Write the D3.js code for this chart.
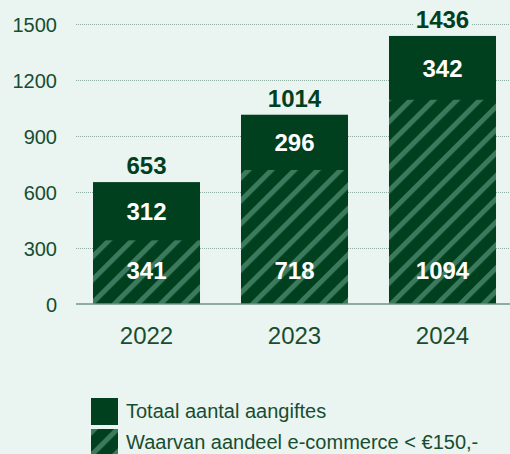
<!DOCTYPE html>
<html>
<head>
<meta charset="utf-8">
<script src="https://cdn.jsdelivr.net/npm/d3@7"></script>
<style>
  body { margin: 0; background: #eaf4f1; }
  svg { display: block; font-family: 'Liberation Sans', Arial, sans-serif; }
</style>
</head>
<body>
<svg></svg>
<script>
const years = ['2022', '2023', '2024'];
const totals = [653, 1014, 1436];
const ecommerce = [341, 718, 1094];
const remainder = [312, 296, 342];
const yTicks = [0, 300, 600, 900, 1200, 1500];
const legendLabels = ['Totaal aantal aangiftes', 'Waarvan aandeel e-commerce < €150,-'];

const width = 510, height = 454;
const dark = '#00401e';
const stripe = '#3b7a5c';
const bg = '#eaf4f1';

const svg = d3.select('svg')
  .attr('width', width)
  .attr('height', height)
  .style('background-color', bg);

const defs = svg.append('defs');
const pat = defs.append('pattern')
  .attr('id', 'hatch')
  .attr('patternUnits', 'userSpaceOnUse')
  .attr('width', 16.3)
  .attr('height', 16.3)
  .attr('patternTransform', 'rotate(45)');
pat.append('rect').attr('width', 16.3).attr('height', 16.3).attr('fill', dark);
pat.append('rect').attr('width', 5).attr('height', 16.3).attr('fill', stripe);

const xScale = d3.scaleBand()
  .domain(years)
  .range([72.5, 516.5])
  .paddingInner(0.277)
  .paddingOuter(0.1385);

const yScale = d3.scaleLinear()
  .domain([0, 1500])
  .range([304, 24]);

// grid + tick labels
const yAxis = svg.append('g')
  .call(d3.axisLeft(yScale).tickValues(yTicks).tickFormat(d3.format('d')).tickSize(0).tickPadding(0));
yAxis.select('.domain').remove();
yAxis.selectAll('.tick text')
  .attr('x', 57)
  .attr('dy', '0.35em')
  .attr('text-anchor', 'end')
  .style('font-family', "'Liberation Sans', Arial, sans-serif")
  .style('font-size', '20px')
  .attr('fill', '#174d30');
yAxis.selectAll('.tick')
  .filter(d => d !== 0)
  .append('line')
  .attr('x1', 76).attr('x2', width)
  .attr('stroke', '#8fae9f')
  .attr('stroke-width', 1.2)
  .attr('stroke-dasharray', '1,1');

// bars
const bars = svg.append('g').selectAll('g')
  .data(years)
  .join('g');

bars.append('rect')
  .attr('x', d => xScale(d))
  .attr('width', xScale.bandwidth())
  .attr('y', (d, i) => yScale(totals[i]))
  .attr('height', (d, i) => yScale(0) - yScale(totals[i]))
  .attr('fill', dark);

bars.append('rect')
  .attr('x', d => xScale(d))
  .attr('width', xScale.bandwidth())
  .attr('y', (d, i) => yScale(ecommerce[i]))
  .attr('height', (d, i) => yScale(0) - yScale(ecommerce[i]))
  .attr('fill', 'url(#hatch)');

// baseline
svg.append('line')
  .attr('x1', 76).attr('x2', width)
  .attr('y1', yScale(0)).attr('y2', yScale(0))
  .attr('stroke', '#6f9483')
  .attr('stroke-width', 1.6);

// labels
const cx = d => xScale(d) + xScale.bandwidth() / 2;

const totalLabels = bars.append('g');
totalLabels.each(function(d, i) {
  const g = d3.select(this);
  const t = g.append('text')
    .attr('x', cx(d))
    .attr('y', yScale(totals[i]) - 8)
    .attr('text-anchor', 'middle')
    .attr('fill', dark)
    .style('font-size', '24px')
    .style('font-weight', 'bold')
    .text(totals[i]);
  const bb = t.node().getBBox();
  g.insert('rect', 'text')
    .attr('x', bb.x - 2).attr('y', bb.y + 3)
    .attr('width', bb.width + 4).attr('height', bb.height - 6)
    .attr('fill', bg);
});

bars.append('text')
  .attr('x', cx)
  .attr('y', (d, i) => (yScale(totals[i]) + yScale(ecommerce[i])) / 2)
  .attr('dy', '0.36em')
  .attr('text-anchor', 'middle')
  .attr('fill', '#fff')
  .style('font-size', '24px')
  .style('font-weight', 'bold')
  .text((d, i) => remainder[i]);

bars.append('text')
  .attr('x', cx)
  .attr('y', yScale(0) - 25)
  .attr('text-anchor', 'middle')
  .attr('fill', '#fff')
  .style('font-size', '24px')
  .style('font-weight', 'bold')
  .text((d, i) => ecommerce[i]);

// x labels
svg.append('g').selectAll('text')
  .data(years)
  .join('text')
  .attr('x', cx)
  .attr('y', yScale(0) + 40)
  .attr('text-anchor', 'middle')
  .attr('fill', '#174d30')
  .style('font-size', '24px')
  .text(d => d);

// legend
const legend = svg.append('g').attr('transform', 'translate(91, 398)');
const items = legend.selectAll('g')
  .data(legendLabels)
  .join('g')
  .attr('transform', (d, i) => `translate(0, ${i * 31})`);
items.append('rect')
  .attr('width', 27).attr('height', 27)
  .attr('fill', (d, i) => i === 0 ? dark : 'url(#hatch)');
items.append('text')
  .attr('x', 35)
  .attr('y', 20)
  .attr('fill', '#174d30')
  .style('font-size', '20px')
  .text(d => d);
</script>
</body>
</html>
